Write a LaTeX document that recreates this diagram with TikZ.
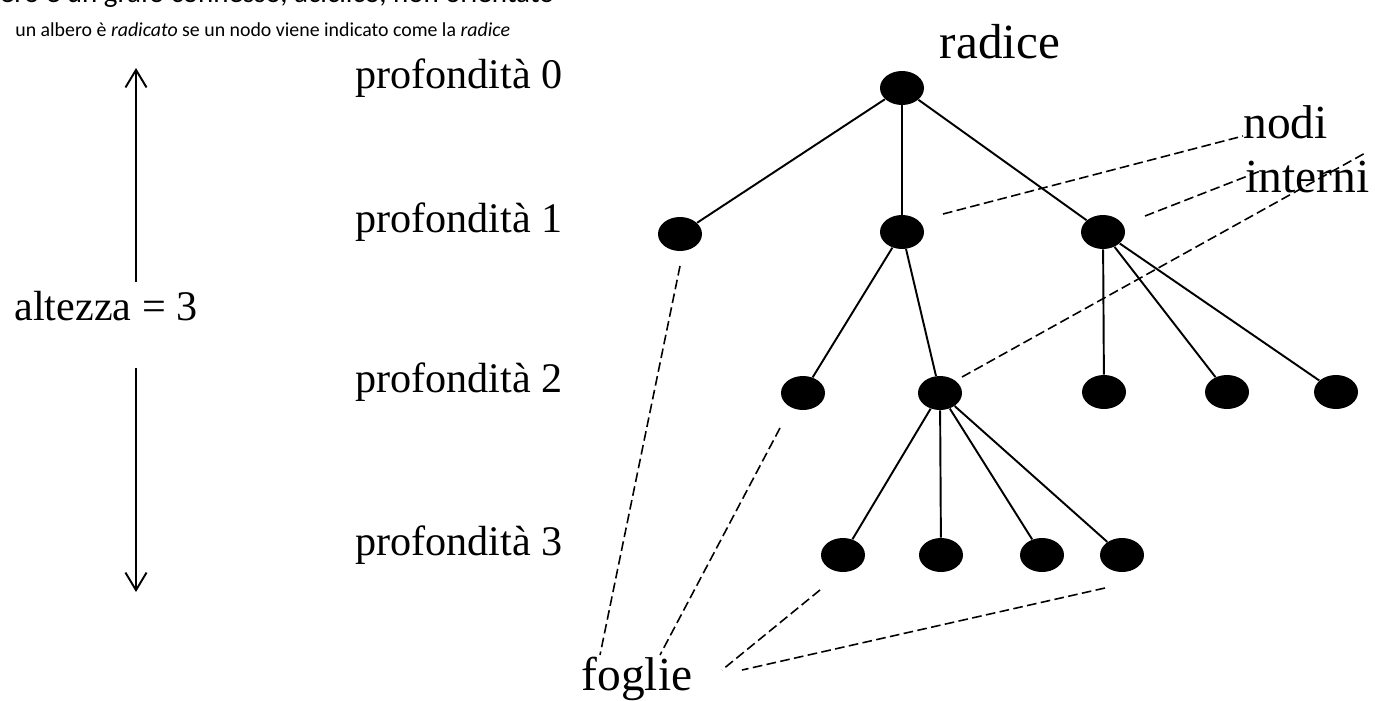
\documentclass[tikz,border=0pt]{standalone}
\usepackage{fontspec}
\setmainfont{Liberation Serif}
\newfontfamily\calibri{Carlito}
\usetikzlibrary{shapes.geometric,arrows.meta}

\begin{document}
\begin{tikzpicture}[x=0.02cm, y=-0.02cm,
  dot/.style={ellipse, fill=black, minimum width=0.88cm, minimum height=0.68cm, inner sep=0pt},
  lbl/.style={inner sep=0pt, font=\fontsize{24}{28}\selectfont},
  big/.style={inner sep=0pt, font=\fontsize{27}{30}\selectfont},
  edge/.style={line width=1.1pt},
  guide/.style={line width=0.9pt, dash pattern=on 5.5pt off 2.5pt},
  span/.style={line width=1.1pt, -{Straight Barb[length=10pt, width=12pt, line width=1.1pt]}}]
\useasboundingbox (0,0) rectangle (1375,700);
% titolo
\node[anchor=base east, inner sep=0pt, font=\calibri\fontsize{16.5}{19}\selectfont] (H1) at (555,2) {un albero è un grafo connesso, aciclico, non orientato};
\node[anchor=base west, inner sep=0pt, font=\calibri\fontsize{11.3}{14}\selectfont] (H2) at (15,36) {un albero è \textit{radicato} se un nodo viene indicato come la \textit{radice}};
% livelli
\node[lbl, anchor=west] (P0) at (355,78) {profondità 0};
\node[lbl, anchor=west] (P1) at (355,222) {profondità 1};
\node[lbl, anchor=west] (P2) at (355,382) {profondità 2};
\node[lbl, anchor=west] (P3) at (355,545) {profondità 3};
\node[lbl] (ALT) at (106,306) {altezza = 3};
\coordinate (A1) at (136,282);
\coordinate (A2) at (136,68);
\coordinate (A3) at (136,368);
\coordinate (A4) at (136,592);
\draw[span] (A1) -- (A2);
\draw[span] (A3) -- (A4);
% albero
\node[dot] (T0N0) at (902,88) {};
\node[dot] (T1N0) at (680,234) {};
\node[dot] (T1N1) at (902,232) {};
\node[dot] (T1N2) at (1103,232) {};
\node[dot] (T2N0) at (803,393) {};
\node[dot] (T2N1) at (940,393) {};
\node[dot] (T2N2) at (1104,392) {};
\node[dot] (T2N3) at (1227,392) {};
\node[dot] (T2N4) at (1336,392) {};
\node[dot] (T3N0) at (843,555) {};
\node[dot] (T3N1) at (941,555) {};
\node[dot] (T3N2) at (1042,555) {};
\node[dot] (T3N3) at (1122,555) {};
\draw[edge] (T0N0) -- (T1N0);
\draw[edge] (T0N0) -- (T1N1);
\draw[edge] (T0N0) -- (T1N2);
\draw[edge] (T1N1) -- (T2N0);
\draw[edge] (T1N1) -- (T2N1);
\draw[edge] (T1N2) -- (T2N2);
\draw[edge] (T1N2) -- (T2N3);
\draw[edge] (T1N2) -- (T2N4);
\draw[edge] (T2N1) -- (T3N0);
\draw[edge] (T2N1) -- (T3N1);
\draw[edge] (T2N1) -- (T3N2);
\draw[edge] (T2N1) -- (T3N3);
% etichette
\node[inner sep=0pt, font=\fontsize{28}{32}\selectfont] (RAD) at (1000,42) {radice};
\node[big, anchor=base west] (NOD) at (1243,138) {nodi};
\node[big, anchor=base west] (INT) at (1245,192) {interni};
\node[big, anchor=base] (FOG) at (637,690) {foglie};
% linee tratteggiate
\coordinate (I1a) at (943,214);
\coordinate (I1b) at (1243,136);
\coordinate (I2a) at (1145,216);
\coordinate (I2b) at (1263,170);
\coordinate (I3a) at (962,377);
\coordinate (I3b) at (1367,152);
\coordinate (F1a) at (680,266);
\coordinate (F1b) at (600,655);
\coordinate (F2a) at (780,428);
\coordinate (F2b) at (660,655);
\coordinate (F3a) at (820,590);
\coordinate (F3b) at (722,670);
\coordinate (F4a) at (1105,588);
\coordinate (F4b) at (742,670);
\draw[guide] (I1a) -- (I1b);
\draw[guide] (I2a) -- (I2b);
\draw[guide] (I3a) -- (I3b);
\draw[guide] (F1a) -- (F1b);
\draw[guide] (F2a) -- (F2b);
\draw[guide] (F3a) -- (F3b);
\draw[guide] (F4a) -- (F4b);
\end{tikzpicture}
\end{document}
